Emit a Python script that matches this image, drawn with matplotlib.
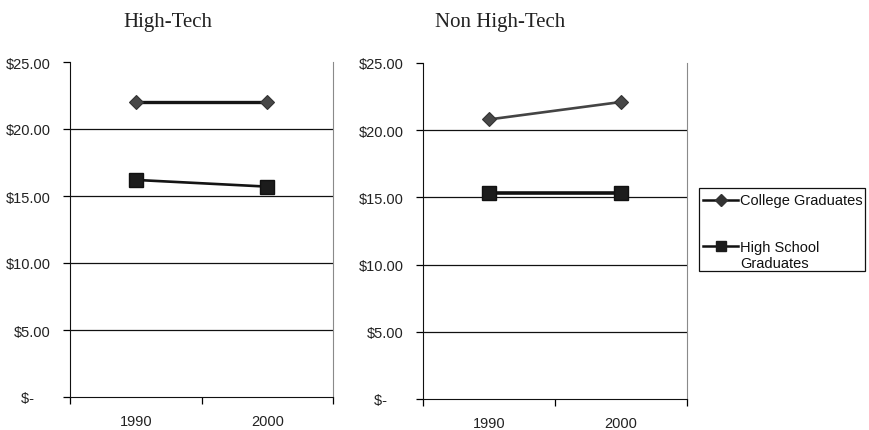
import matplotlib
matplotlib.use("Agg")
import matplotlib.pyplot as plt
from matplotlib.lines import Line2D
from matplotlib.patches import Rectangle
from matplotlib.ticker import FuncFormatter

years = ["1990", "2000"]
panels = ["High-Tech", "Non High-Tech"]
college = {"High-Tech": [22.0, 22.0], "Non High-Tech": [20.8, 22.1]}
high_school = {"High-Tech": [16.2, 15.7], "Non High-Tech": [15.3, 15.3]}
y_ticks = [0, 5, 10, 15, 20, 25]
series_names = ["College Graduates", "High School", "Graduates"]

plt.rcParams["font.family"] = ["Liberation Sans", "DejaVu Sans"]

W, H = 869, 431
fig = plt.figure(figsize=(W / 100, H / 100), dpi=100)


def fx(px):
    return px / W


def fy(py):
    return 1 - py / H


rects = [
    [fx(70), fy(398), 263 / W, 335 / H],
    [fx(423), fy(400), 264 / W, 336 / H],
]
title_x = {"High-Tech": 168, "Non High-Tech": 500}
college_style = {
    "High-Tech": dict(color="#161616", lw=2.4),
    "Non High-Tech": dict(color="#444444", lw=1.9),
}
hs_style = {
    "High-Tech": dict(color="#141414", lw=1.9),
    "Non High-Tech": dict(color="#111111", lw=2.6),
}


def money(v, _):
    return "$-    " if v == 0 else f"${v:,.2f}"


for rect, name in zip(rects, panels):
    ax = fig.add_axes(rect)
    x = [0.5, 1.5]
    ax.plot(x, college[name], marker="D", ms=7.2, mfc="#474747",
            mec="#333333", mew=0.8, zorder=3, **college_style[name])
    ax.plot(x, high_school[name], marker="s", ms=10, mfc="#1c1c1c",
            mec="#111111", zorder=3, **hs_style[name])
    ax.set_xlim(0, 2)
    ax.set_ylim(0, 25)
    ax.set_yticks(y_ticks)
    ax.yaxis.set_major_formatter(FuncFormatter(money))
    for v in y_ticks[1:-1]:
        ax.axhline(v, color="#111111", lw=0.9, zorder=1)
    ax.set_xticks([0, 1, 2])
    ax.set_xticklabels([])
    ax.set_xticks(x, minor=True)
    ax.set_xticklabels(years, minor=True)
    ax.tick_params(axis="x", which="minor", length=0, pad=12, labelsize=10.5,
                   labelcolor="#222222")
    ax.tick_params(axis="x", which="major", length=5, width=0.9, direction="out")
    ax.tick_params(axis="y", length=5, width=0.9, labelsize=10.5, pad=9,
                   labelcolor="#222222")
    ax.spines["top"].set_visible(False)
    ax.spines["right"].set_color("#8a8a8a")
    ax.spines["left"].set_color("#111111")
    ax.spines["bottom"].set_color("#111111")
    fig.text(fx(title_x[name]), fy(27), name, family=["Liberation Serif"],
             fontsize=15, ha="center", va="baseline", color="#222222")

# Legend box on the right, with the second entry's handle beside its first line
fig.add_artist(Rectangle((fx(699), fy(272)), (865 - 699) / W, (272 - 189) / H,
                         transform=fig.transFigure, fill=False,
                         edgecolor="#111111", lw=0.9))
handle_rows = [(201, "D", 6, "#333333"), (247, "s", 6.5, "#1c1c1c")]
for (yrow, mk, ms, mc) in handle_rows:
    fig.add_artist(Line2D([fx(703), fx(738)], [fy(yrow), fy(yrow)],
                          transform=fig.transFigure, color="#111111", lw=1.8,
                          marker=None))
    fig.add_artist(Line2D([fx(721)], [fy(yrow)], transform=fig.transFigure,
                          marker=mk, ms=ms, mfc=mc, mec=mc, ls="none"))
for label, yrow in zip(series_names, [201, 248, 264]):
    fig.text(fx(740), fy(yrow), label, fontsize=10.5, ha="left",
             va="center", color="#111111")

fig.savefig("out.png", dpi=100, facecolor="white")
